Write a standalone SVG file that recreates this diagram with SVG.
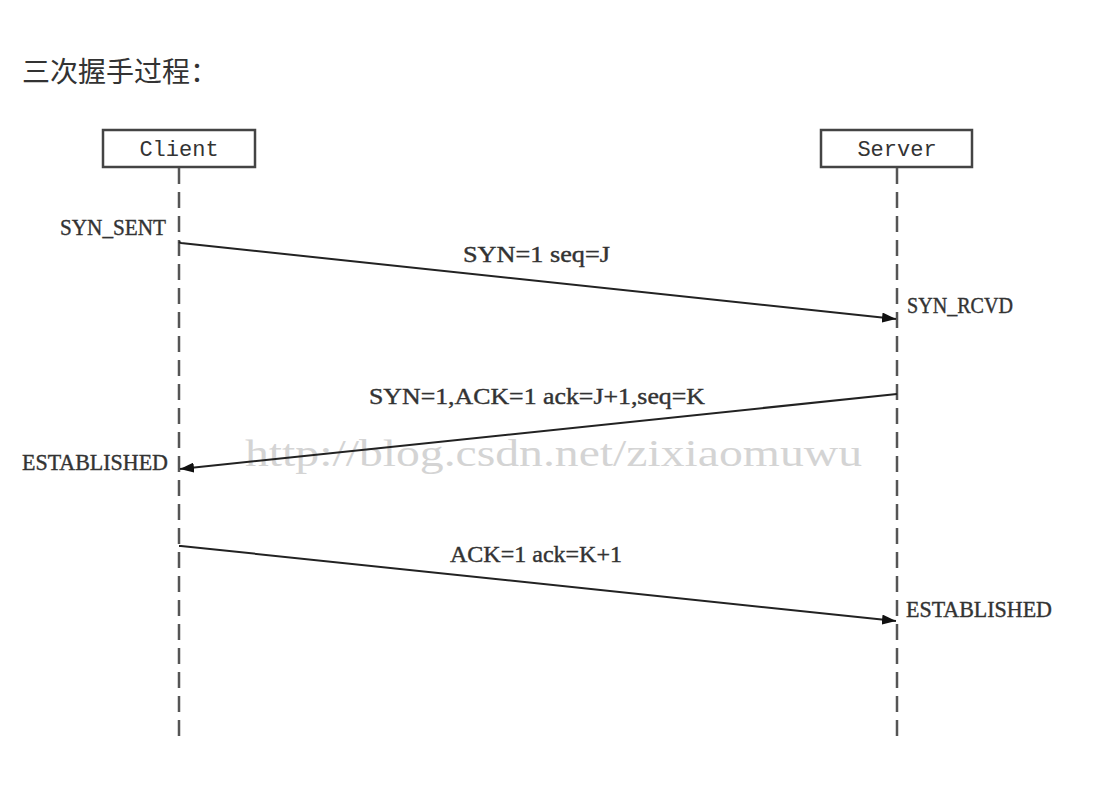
<svg xmlns="http://www.w3.org/2000/svg" width="1106" height="804" viewBox="0 0 1106 804">
<style>
.title{font-family:"Noto Sans CJK SC","Noto Sans",sans-serif;font-size:28px;fill:#333}
.box{fill:#fff;stroke:#444;stroke-width:2.5}
.boxlbl{font-family:"Liberation Mono",monospace;font-size:22px;fill:#333;text-anchor:middle}
.life{stroke:#555;stroke-width:2.5;stroke-dasharray:16 8}
.msg{stroke:#222;stroke-width:2;fill:none}
.lbl{font-family:"Liberation Serif",serif;font-size:23px;fill:#333;stroke:#333;stroke-width:0.4}
.wm{font-family:"Liberation Serif",serif;font-size:38px;fill:#d4d4d4}
</style>
<defs>
<marker id="ah" viewBox="0 0 14 10" refX="14" refY="5" markerWidth="14" markerHeight="10" markerUnits="userSpaceOnUse" orient="auto">
<path d="M0,0 L14,5 L0,10 z" fill="#111"/>
</marker>
</defs>
<rect width="1106" height="804" fill="#fff"/>
<text class="title" x="22" y="82">三次握手过程：</text>
<text class="wm" x="245" y="466" textLength="617" lengthAdjust="spacingAndGlyphs">http://blog.csdn.net/zixiaomuwu</text>
<g id="client">
<rect class="box" x="103" y="130" width="152" height="37"/>
<text class="boxlbl" x="179" y="156">Client</text>
<line class="life" x1="179" y1="168" x2="179" y2="736"/>
</g>
<g id="server">
<rect class="box" x="821" y="130" width="151" height="37"/>
<text class="boxlbl" x="897" y="156">Server</text>
<line class="life" x1="897" y1="168" x2="897" y2="736"/>
</g>
<g id="connectors">
<polyline class="msg" points="179,242 181,243 896,319" marker-end="url(#ah)"/>
<line class="msg" x1="897" y1="394" x2="180" y2="469" marker-end="url(#ah)"/>
<polyline class="msg" points="179,546 181,546 896,621" marker-end="url(#ah)"/>
</g>
<g id="labels">
<text class="lbl" x="60" y="235" textLength="106" lengthAdjust="spacingAndGlyphs">SYN_SENT</text>
<text class="lbl" x="463" y="262" textLength="147" lengthAdjust="spacingAndGlyphs">SYN=1 seq=J</text>
<text class="lbl" x="907" y="313" textLength="106" lengthAdjust="spacingAndGlyphs">SYN_RCVD</text>
<text class="lbl" x="369" y="404" textLength="336" lengthAdjust="spacingAndGlyphs">SYN=1,ACK=1 ack=J+1,seq=K</text>
<text class="lbl" x="22" y="470" textLength="146" lengthAdjust="spacingAndGlyphs">ESTABLISHED</text>
<text class="lbl" x="450" y="562" textLength="172" lengthAdjust="spacingAndGlyphs">ACK=1 ack=K+1</text>
<text class="lbl" x="906" y="617" textLength="146" lengthAdjust="spacingAndGlyphs">ESTABLISHED</text>
</g>
</svg>
